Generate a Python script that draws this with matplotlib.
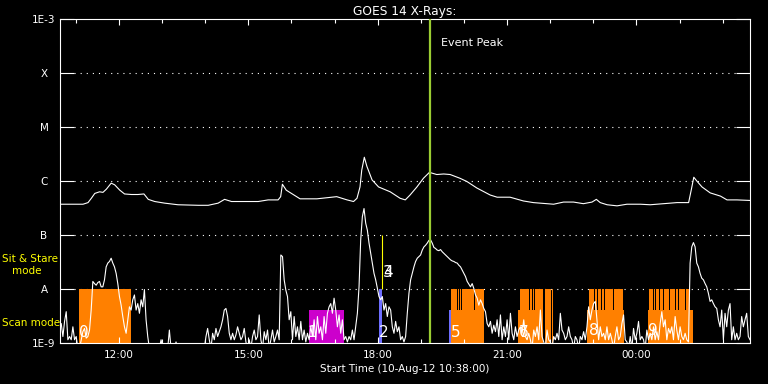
"""
    GOES 14 X-ray light curve with IRIS observing-mode bars
"""

import matplotlib
matplotlib.use('Agg')
import matplotlib.pyplot as plt
import numpy as np

# time axis in hours of 10-Aug-12 (values > 24 are on 11-Aug)
t_start = 10 + 38 / 60.
t_end = t_start + 16
event_peak = 19.21

# long channel (1-8 A), log10 W/m^2
long_t = [10.633, 11.167, 11.283, 11.36, 11.44, 11.55, 11.63, 11.71, 11.82, 11.90,
          12.02, 12.13, 12.29, 12.44, 12.58, 12.68, 12.83, 13.06, 13.37, 13.84,
          14.07, 14.30, 14.45, 14.61, 14.92, 15.23, 15.46, 15.69, 15.75, 15.79,
          15.88, 16.00, 16.20, 16.59, 17.05, 17.29, 17.44, 17.52, 17.59, 17.63,
          17.69, 17.75, 17.87, 18.02, 18.29, 18.52, 18.64, 18.75, 18.91, 19.06,
          19.20, 19.37, 19.53, 19.68, 19.91, 20.07, 20.30, 20.61, 20.77, 21.07,
          21.38, 21.61, 22.08, 22.31, 22.54, 22.77, 22.97, 23.07, 23.16, 23.32,
          23.55, 23.78, 24.09, 24.32, 24.63, 24.94, 25.21, 25.27, 25.33, 25.40,
          25.52, 25.71, 25.95, 26.10, 26.33, 26.63]
long_flux = [-6.43, -6.43, -6.40, -6.32, -6.23, -6.20, -6.21, -6.15, -6.04, -6.07,
             -6.17, -6.24, -6.25, -6.25, -6.24, -6.34, -6.38, -6.41, -6.44, -6.45,
             -6.45, -6.41, -6.34, -6.38, -6.38, -6.38, -6.35, -6.35, -6.29, -6.06,
             -6.17, -6.23, -6.33, -6.33, -6.29, -6.35, -6.38, -6.32, -6.11, -5.80,
             -5.56, -5.73, -5.98, -6.11, -6.20, -6.32, -6.35, -6.26, -6.11, -5.95,
             -5.84, -5.88, -5.87, -5.88, -5.95, -6.01, -6.13, -6.26, -6.30, -6.30,
             -6.37, -6.40, -6.43, -6.39, -6.39, -6.42, -6.39, -6.34, -6.40, -6.44,
             -6.46, -6.43, -6.43, -6.44, -6.42, -6.40, -6.40, -6.17, -5.93, -6.00,
             -6.11, -6.22, -6.28, -6.35, -6.35, -6.36]

# short channel (0.5-4 A), log10 W/m^2, evenly sampled over the window
short_flux = [
    -8.70, -8.64, -8.88, -8.60, -8.42, -8.94, -8.88, -8.94, -8.70, -8.94,
    -8.88, -9.10, -9.10, -8.94, -8.79, -8.73, -8.91, -8.88, -8.76, -8.39,
    -7.86, -7.90, -7.93, -7.88, -7.86, -7.96, -7.96, -7.83, -7.59, -7.52,
    -7.49, -7.43, -7.52, -7.59, -7.71, -7.90, -8.14, -8.30, -8.51, -8.70,
    -8.82, -8.57, -8.33, -8.39, -8.20, -8.11, -8.39, -8.27, -8.45, -8.20,
    -8.33, -8.01, -8.57, -8.88, -9.10, -9.10, -9.10, -9.10, -9.10, -9.10,
    -9.10, -8.94, -9.10, -9.10, -9.10, -9.10, -8.76, -9.10, -9.10, -9.10,
    -8.98, -9.10, -9.10, -9.10, -9.10, -9.10, -9.10, -9.10, -9.10, -9.10,
    -9.10, -9.10, -9.10, -9.10, -9.10, -9.10, -9.10, -9.10, -8.88, -8.73,
    -8.94, -9.10, -8.82, -8.94, -8.73, -8.88, -8.79, -8.70, -8.57, -8.39,
    -8.36, -8.51, -8.82, -8.94, -8.82, -8.94, -8.85, -8.70, -8.82, -8.94,
    -8.88, -8.73, -8.98, -9.10, -8.94, -9.10, -8.88, -8.76, -8.94, -8.88,
    -8.48, -8.94, -9.10, -8.79, -8.94, -8.76, -9.10, -8.94, -8.76, -8.98,
    -8.88, -8.76, -8.94, -7.37, -7.40, -7.83, -8.02, -8.14, -8.57,
    -8.42, -8.94, -8.51, -8.88, -8.70, -8.94, -8.60, -8.94, -8.76, -8.98,
    -8.82, -8.94, -8.70, -8.88, -8.57, -8.94, -8.51, -8.82, -8.70, -8.94,
    -8.51, -8.82, -8.45, -8.33, -8.27, -8.45, -8.17, -8.39, -8.70, -8.48,
    -8.82, -8.57, -8.94, -8.88, -8.98, -8.88, -8.94, -8.76, -8.94, -8.70,
    -8.45, -7.96, -7.09, -6.66, -6.51, -6.78, -6.91, -7.15, -7.34, -7.52,
    -7.71, -7.83, -7.99, -8.14, -8.20, -8.14, -8.39, -8.27, -8.51, -8.33,
    -8.39, -8.70, -8.82, -8.60, -8.79, -8.70, -8.94, -8.88, -8.98, -8.88,
    -8.45, -8.08, -7.83, -7.71, -7.59, -7.49, -7.43, -7.40, -7.37, -7.28,
    -7.22, -7.19, -7.15, -7.10, -7.09, -7.15, -7.23, -7.25, -7.28, -7.29,
    -7.27, -7.31, -7.34, -7.37, -7.40, -7.43, -7.46, -7.48, -7.49, -7.51,
    -7.52, -7.56, -7.59, -7.65, -7.71, -7.77, -7.86, -7.91, -7.96, -7.90,
    -7.99, -8.11, -8.17, -8.30, -8.20, -8.27, -8.36, -8.42, -8.64, -8.70,
    -8.60, -8.82, -8.67, -8.79, -8.57, -8.88, -8.48, -8.94, -8.70, -8.88,
    -8.57, -8.94, -8.45, -8.82, -8.94, -8.70, -8.88, -8.76,
    -8.70, -8.82, -8.57, -8.88, -8.94, -8.82, -8.94, -9.10, -8.76, -8.88,
    -8.70, -8.94, -8.39, -8.88, -8.98, -9.10, -8.76, -8.94, -8.98, -9.10,
    -8.88, -8.94, -8.82, -8.94, -8.45, -8.76, -8.82, -8.94, -8.88, -8.70,
    -8.88, -8.94, -9.10, -8.88, -8.94, -9.10, -8.88, -8.94, -8.79, -8.94,
    -8.70, -8.33, -8.57, -8.39, -8.27, -8.23, -8.57, -8.94, -8.70, -8.88,
    -8.82, -8.94, -8.70, -8.94, -8.82, -8.94, -9.10, -8.88, -8.70, -8.94,
    -8.88, -8.64, -8.48, -8.94, -8.98, -9.10, -8.88, -9.10, -8.73, -8.94,
    -8.82, -8.60, -8.94, -8.88, -8.94, -9.10, -8.76, -8.94, -8.82, -8.94,
    -8.70, -8.94, -8.79, -8.94, -8.64, -8.42, -8.70, -8.57, -8.94, -8.73,
    -8.82, -8.70, -8.94, -8.51, -8.76, -8.94, -8.70, -8.88, -8.94, -8.82,
    -8.94, -8.98, -7.52, -7.22, -7.14, -7.22, -7.52, -7.59, -7.71, -7.80,
    -7.83, -7.90, -7.96, -8.08, -8.23, -8.20, -8.27, -8.33, -8.36, -8.57,
    -8.70, -8.39, -8.94, -8.45, -8.70, -8.39, -8.27, -8.94, -8.70, -8.94,
    -8.82, -8.94, -8.88, -8.51, -8.70, -8.57, -8.45, -8.88, -8.94]

# observing modes: (start, end) in hours
scan_full = [(11.07, 12.27), (19.705, 20.455), (21.31, 21.83), (21.89, 22.02),
             (22.04, 22.06), (22.89, 23.69), (24.30, 25.25)]
scan_low = [(21.25, 21.31), (22.85, 23.70), (24.27, 25.30)]
scan_gaps = [19.84, 19.89, 19.94, 19.99, 20.24, 21.52, 21.57, 21.63,
             23.02, 23.08, 23.17, 23.24, 23.33, 23.46,
             24.38, 24.44, 24.53, 24.61, 24.75, 24.90, 24.96, 25.07, 25.13]
magenta_spans = [(16.41, 17.21)]
blue_spans = [(18.04, 18.10, -8.0), (19.66, 19.705, -8.38)]
yellow_span = (18.10, 18.13)
low_level = -8.38

seq_labels = [('0', 11.19, -8.81), ('1', 16.48, -8.81), ('2', 18.15, -8.81),
              ('3', 18.24, -7.69), ('4', 18.24, -7.69), ('5', 19.80, -8.81),
              ('6', 21.38, -8.81), ('7', 21.38, -8.81), ('8', 23.00, -8.77),
              ('9', 24.37, -8.76)]

levels = [-9, -8, -7, -6, -5, -4, -3]
level_names = ['1E-9', 'A', 'B', 'C', 'M', 'X', '1E-3']

orange = '#ff8000'
fig = plt.figure(figsize=(7.68, 3.84), dpi=100, facecolor='black')
ax = fig.add_axes([60 / 768., 1 - 343 / 384., 690 / 768., 324 / 384.])
ax.set_facecolor('black')
ax.set_yscale('log')
ax.set_xlim(t_start, t_end)
ax.set_ylim(1e-9, 1e-3)

ymin = 1e-9
for a, b in scan_low:
    ax.bar(a, 10**low_level - ymin, width=b - a, bottom=ymin, align='edge',
           color=orange, linewidth=0, zorder=1)
for a, b in scan_full:
    ax.bar(a, 1e-8 - ymin, width=b - a, bottom=ymin, align='edge',
           color=orange, linewidth=0, zorder=1)
for g in scan_gaps:
    ax.bar(g, 1e-8 - 10**low_level, width=0.02, bottom=10**low_level, align='edge',
           color='black', linewidth=0, zorder=1.5)
for a, b in magenta_spans:
    ax.bar(a, 10**low_level - ymin, width=b - a, bottom=ymin, align='edge',
           color='#cc00cc', linewidth=0, zorder=1)
for a, b, top in blue_spans:
    ax.bar(a, 10**top - ymin, width=b - a, bottom=ymin, align='edge',
           color='#6e6eff', linewidth=0, zorder=1)
ax.bar(yellow_span[0], 10**-7.37 - 1e-8, width=yellow_span[1] - yellow_span[0],
       bottom=1e-8, align='edge', color='yellow', linewidth=0, zorder=1)
ax.vlines(yellow_span[0] + 0.01, 1e-8, 1e-7, color='yellow', lw=0.8, zorder=1)

# dotted level lines
for lv in levels[1:-1]:
    ax.axhline(10**lv, xmin=0.021, xmax=0.979, color='white', lw=0.8,
               linestyle=(0, (1, 4.5)), zorder=0.5)

short_t = np.linspace(t_start - 0.01, t_end, len(short_flux))
ax.plot(long_t, 10**np.array(long_flux), color='white', lw=0.8, zorder=3)
ax.plot(short_t, 10**np.array(short_flux), color='white', lw=0.8, zorder=3)

ax.axvline(event_peak, color='#9acd32', lw=1.6, zorder=4)
ax.text(event_peak + 0.26, 10**-3.44, 'Event Peak', color='white', fontsize=8,
        va='center', ha='left')

for txt, tx, ty in seq_labels:
    ax.text(tx, 10**ty, txt, color='white', fontsize=11, ha='center', va='center', zorder=5)

# axes styling
for sp in ax.spines.values():
    sp.set_color('white')
    sp.set_linewidth(0.8)
ax.set_yticks([10.0**lv for lv in levels])
ax.set_yticklabels(level_names)
ax.yaxis.set_minor_locator(matplotlib.ticker.NullLocator())
ax.tick_params(axis='y', which='major', direction='in', length=10, width=0.8,
               color='white', labelcolor='white', labelsize=7.5, left=True, right=True, pad=11.5)
for lab in ax.get_yticklabels():
    lab.set_horizontalalignment('center')

ax.set_xticks([12, 15, 18, 21, 24])
ax.set_xticklabels(['12:00', '15:00', '18:00', '21:00', '00:00'])
ax.set_xticks(range(11, 27), minor=True)
ax.tick_params(axis='x', which='major', direction='in', length=4.5, width=0.8,
               color='white', labelcolor='white', labelsize=7.5, top=True, bottom=True, pad=5)
ax.tick_params(axis='x', which='minor', direction='in', length=2.7, width=0.8,
               color='white', top=True, bottom=True)

ax.set_title('GOES 14 X-Rays:', color='white', fontsize=8.8, pad=3)
ax.set_xlabel('Start Time (10-Aug-12 10:38:00)', color='white', fontsize=7.5, labelpad=3)

fig.text(2 / 768., 1 - 259 / 384., 'Sit & Stare', color='yellow', fontsize=7.5, va='center')
fig.text(12 / 768., 1 - 271.5 / 384., 'mode', color='yellow', fontsize=7.5, va='center')
fig.text(2 / 768., 1 - 323.5 / 384., 'Scan mode', color='yellow', fontsize=7.5, va='center')

fig.savefig('out.png', dpi=100, facecolor='black')
